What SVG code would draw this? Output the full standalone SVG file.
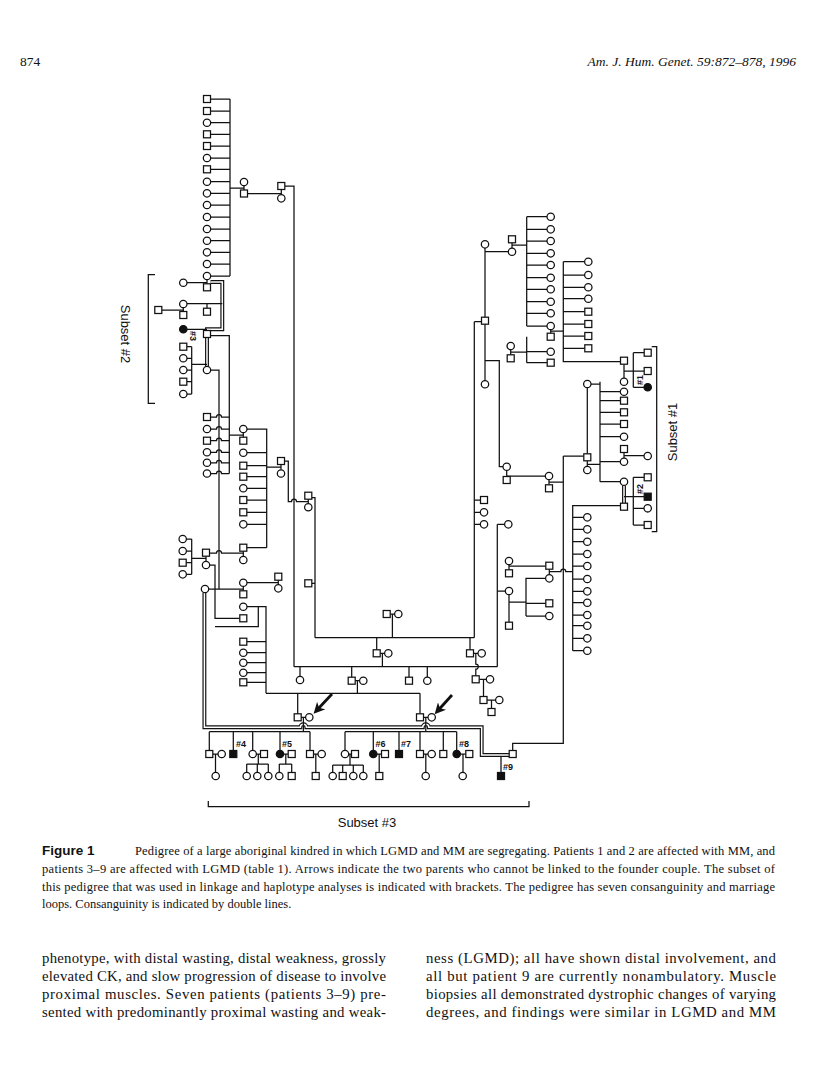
<svg xmlns="http://www.w3.org/2000/svg" xmlns:xlink="http://www.w3.org/1999/xlink" width="816" height="1081" viewBox="0 0 816 1081">
<style>
.s{fill:#fff;stroke:#111;stroke-width:1.25}
.f{fill:#111;stroke:#111;stroke-width:1.25}
.l{fill:none;stroke:#111;stroke-width:1.25}
.do{fill:none;stroke:#111;stroke-width:3.9}
.di{fill:none;stroke:#fff;stroke-width:1.5}
.ar{fill:none;stroke:#111;stroke-width:2.8}
.lab{font-family:"Liberation Sans",Arial,sans-serif;font-size:9px;font-weight:bold;fill:#111}
.sub{font-family:"Liberation Sans",Arial,sans-serif;font-size:13px;fill:#111}
.cap{font-family:"Liberation Serif","Times New Roman",serif;font-size:12.5px;fill:#111}
.bd{font-family:"Liberation Serif","Times New Roman",serif;font-size:14.8px;fill:#111}
.hd{font-family:"Liberation Serif","Times New Roman",serif;font-size:13.5px;fill:#111}
</style>
<defs>
<marker id="ah" markerUnits="userSpaceOnUse" markerWidth="11" markerHeight="11" refX="6" refY="5.5" orient="auto"><path d="M0,0 L11,5.5 L0,11 L3,5.5 Z" fill="#111"/></marker>
<path id="d1" d="M210.5,282 H222.3 V329.3 H207 V330.5"/>
<path id="d2" d="M207,337.6 V366.3"/>
<path id="d3" d="M624,485.4 V503.2"/>
<path id="d4" d="M204.4,592.7 V727.3 H300.4 a3,3 0 0 1 6,0 H422.8 a3,3 0 0 1 6,0 H481.7 V755 H509.2"/>
</defs>
<rect width="816" height="1081" fill="#fff"/>
<text class="hd" x="20" y="66">874</text>
<text class="hd" x="796" y="66" text-anchor="end" font-style="italic">Am. J. Hum. Genet. 59:872–878, 1996</text>

<g id="connectors">
<use xlink:href="#d1" class="do"/><use xlink:href="#d1" class="di"/>
<use xlink:href="#d2" class="do"/><use xlink:href="#d2" class="di"/>
<use xlink:href="#d3" class="do"/><use xlink:href="#d3" class="di"/>
<use xlink:href="#d4" class="do"/><use xlink:href="#d4" class="di"/>
<path class="l" d="M210.5,99H230M210.5,111H230M210.5,122.7H230M210.5,134.3H230M210.5,146H230M210.5,158H230M210.5,169.3H230M210.5,181.7H230M210.5,193.3H230M210.5,205H230M210.5,217H230M210.5,229H230M210.5,240.7H230M210.5,252.3H230M210.5,264H230M210.5,276H230M230,99V276M230,188H244M244,185.7V190M247.5,193.5H281.3M281.3,189.5V194.6M284.8,186H294V666.7"/>
<path class="l" d="M207,279.7V283.8M187,282.5H207M183.3,307.7V311.5M161.8,310H183.3M187,303.5H222.3M207,303.5V308.2M187,329.3H207M210.5,335.7H229.3V473.5M210.7,370H219V589M208.7,589H243.3M187,346.7H191.7M187,358.3H191.7M187,370H191.7M187,381.7H191.7M187,394H191.7M191.7,346.7V394M191.7,364.3H207"/>
<path class="l" d="M210.5,417H216.5a2.5,2.5 0 0 1 5,0H229.3M210.7,429H216.5a2.5,2.5 0 0 1 5,0H229.3M210.5,440.7H216.5a2.5,2.5 0 0 1 5,0H229.3M210.7,452.3H216.5a2.5,2.5 0 0 1 5,0H229.3M210.7,462.8H216.5a2.5,2.5 0 0 1 5,0H229.3M210.7,473.5H216.5a2.5,2.5 0 0 1 5,0H229.3M229.3,435H243.3M243.3,432.7V437.2M247,429H266.7V547.7M247,452.7H266.7M246.8,465.7H266.7M246.8,476.7H266.7M247,488.3H266.7M246.8,500H266.7M246.8,512.3H266.7M247,524.3H266.7M246.8,547.7H266.7M243.3,551.2V556.3M281,464.5V469.8M266.7,467H281M284.5,461H288.3V501.5H291.5a2.5,2.5 0 0 1 5,0H308.3M308.3,499.2V503.6M311.8,497.5H315V637.7M311.8,583.3H315"/>
<path class="l" d="M186.4,539H191.7M186.4,551H191.7M186.2,562.7H191.7M186.4,574.3H191.7M191.7,539V574.3M191.7,558.3H206M206,556.2V561.3M209.5,553H216.5a2.5,2.5 0 0 1 5,0H243.3M209.7,565H215V618.3H239.8M243.3,586.4V590.8M247,582.7H278.3M278.3,580.2V584.6M247,606.7H266V693.3M246.8,641.7H266M247,652.7H266M247,662.7H266M247,672.7H266M246.8,682.3H266M215,626.7H258.3V606.7"/>
<path class="l" d="M390.2,614H394.6M392.4,614V637.7M315,637.7H474.3M474.3,321.7V637.7M376.7,637.7V649.8M380.2,653.3H384.6M382.4,653.3V666.7M470,637.7V649.8M473.5,653.3H478M475.8,653.3V664.2a2.5,2.5 0 0 1 0,5V675.8M294,666.7H497.3M497.3,524.3V666.7M300,666.7V676.3M351.7,666.7V677.2M409,666.7V677.2M427.3,666.7V677M355.2,680.7H359.6M357.4,680.7V693.3M266,693.3H420M297.7,693.3V713.8M420,693.3V713.8M479.2,679.3H486.3M483.5,679.3V696.5M487,700H495.6M491.5,700V708.5M297.7,717.3H309.3M303.4,717.3V731.7M420,717.3H431.7M425.8,717.3V731.7"/>
<path class="l" d="M209.3,731.7H310M209.3,731.7V750.5M233.3,731.7V750.5M252.7,731.7V750.3M280,731.7V750.3M310,731.7V750.5M345,731.7H456.7M345,731.7V750.3M373.3,731.7V750.3M399,731.7V750.5M420,731.7V750.5M443.3,731.7V750.5M456.7,731.7V750.3M212.8,754H218M256.4,754H260.5M283.7,754H288.2M313.5,754H318M348.7,754H351.5M377,754H381.5M423.5,754H428M460.4,754H465.8M215.5,754V772.3M258.3,754V764M246.7,764H268.3M246.7,764V772.3M257.3,764V772.3M268.3,764V772.3M285.8,754V764M279.3,764H291.7M279.3,764V772.3M291.7,764V772.5M315.8,754V772.5M350,754V765M332.7,765H363.3M332.7,765V772.3M342.7,765V772.5M353.3,765V772.3M363.3,765V772.3M379.2,754V772.5M425.8,754V772.3M463,754V772.3M501,757V772.5M512.7,751.5V743.3H563.3V456"/>
<path class="l" d="M485,248V380.6M485,251.7H508.3M512,242.8V248M512,245H526.7M526.7,216.7V326M526.7,216.7H547M526.7,229.3H547M526.7,241H547M526.7,253.3H547M526.7,265H547M526.7,277.7H547M526.7,289.3H547M526.7,301.7H547M526.7,313.3H547M526.7,326H547M550.7,329.7V333.2M550.7,331H563.3M563.3,261.7V361.7H620.5M563.3,261.7H584.6M563.3,275H584.6M563.3,287.3H584.6M563.3,298.7H584.6M563.3,311.7H584.8M563.3,324H584.8M563.3,336H584.8M563.3,348.3H584.8M526.7,336.7V362.7M526.7,351.7H547M526.7,362.7H547.2M510.7,349.7V354.8M510.7,352H526.7M481.5,321.7H474.3M485,360.7H499.3V466.7H503M474.3,500H480.5M474.3,512.3H480.3M474.3,524.3H480.3M506.7,470.4V476.5M506.7,476H545.3M549,479.7V484.8M549,482H563.3M504.6,524.3H497.3M509,564.7V569.8M509,566H545.8M549.3,569.2V574.6M549.3,571.7H560.8a2.5,2.5 0 0 1 5,0H572.7M545.6,578.3H526V616M497.3,591H505.3M509,594.7V622.2M509,602H526M526,603.3H545.8M526,616H545.6"/>
<path class="l" d="M624,364.2V378M624,371H633.3M633.3,352.7V387.3M633.3,352.7H644.2M633.3,371H644.2M633.3,387.3H644M591,384H600M587.3,387.7V453.8M587.3,460.8V466.3M587.3,464.3H600M563.3,456H583.8M600,381.7V481.7M600,391.7H620.3M600,400.7H620.5M600,412.3H620.5M600,424H620.5M600,436.7H620.3M600,461.7H620.3M600,481.7H620.3M624,452.5V458M624,455.5H644M624,496.7H633.3M633.3,477.3V525M633.3,477.3H644.2M633.3,496.7H644.2M633.3,508.3H644M633.3,525H644.2M620.5,505.5H572.7V650.7M572.7,517.3H583.6M572.7,529.3H583.6M572.7,541.7H583.6M572.7,554H583.6M572.7,566H583.6M572.7,579H583.6M572.7,591.3H583.6M572.7,602.7H583.6M572.7,615H583.6M572.7,625.7H583.6M572.7,638.3H583.6M572.7,650.7H583.6"/>
<path class="ar" d="M332,694L317,710" marker-end="url(#ah)"/>
<path class="ar" d="M452,695L438,710.5" marker-end="url(#ah)"/>
<path class="l" d="M155,274.7H148.3V403.3H155M651.7,346.7H656.7V531.7H651.7M208.3,801V806.7H529V801"/>
</g>

<g id="nodes">
<g id="a1"><rect class="s" x="203.5" y="95.5" width="7" height="7"/></g>
<g id="a2"><rect class="s" x="203.5" y="107.5" width="7" height="7"/></g>
<g id="a3"><circle class="s" cx="207" cy="122.7" r="3.7"/></g>
<g id="a4"><rect class="s" x="203.5" y="130.8" width="7" height="7"/></g>
<g id="a5"><rect class="s" x="203.5" y="142.5" width="7" height="7"/></g>
<g id="a6"><circle class="s" cx="207" cy="158" r="3.7"/></g>
<g id="a7"><rect class="s" x="203.5" y="165.8" width="7" height="7"/></g>
<g id="a8"><circle class="s" cx="207" cy="181.7" r="3.7"/></g>
<g id="a9"><circle class="s" cx="207" cy="193.3" r="3.7"/></g>
<g id="a10"><circle class="s" cx="207" cy="205" r="3.7"/></g>
<g id="a11"><circle class="s" cx="207" cy="217" r="3.7"/></g>
<g id="a12"><circle class="s" cx="207" cy="229" r="3.7"/></g>
<g id="a13"><circle class="s" cx="207" cy="240.7" r="3.7"/></g>
<g id="a14"><circle class="s" cx="207" cy="252.3" r="3.7"/></g>
<g id="a15"><circle class="s" cx="207" cy="264" r="3.7"/></g>
<g id="a16"><circle class="s" cx="207" cy="276" r="3.7"/></g>
<g id="a17"><circle class="s" cx="244" cy="182" r="3.7"/></g>
<g id="a18"><rect class="s" x="240.5" y="190" width="7" height="7"/></g>
<g id="a19"><rect class="s" x="277.8" y="182.5" width="7" height="7"/></g>
<g id="a20"><circle class="s" cx="281.3" cy="198.3" r="3.7"/></g>

<g id="b1"><circle class="s" cx="183.3" cy="282.7" r="3.7"/></g>
<g id="b2"><rect class="s" x="203.5" y="283.8" width="7" height="7"/></g>
<g id="b3"><circle class="s" cx="183.3" cy="304" r="3.7"/></g>
<g id="b4"><rect class="s" x="179.8" y="311.5" width="7" height="7"/></g>
<g id="b5"><rect class="s" x="154.8" y="306.5" width="7" height="7"/></g>
<g id="b6"><rect class="s" x="203.5" y="308.2" width="7" height="7"/></g>
<g id="b7"><circle class="f" cx="183.3" cy="329.3" r="3.7"/><text class="lab" transform="translate(189.5,331) rotate(90)">#3</text></g>
<g id="b8"><rect class="s" x="203.5" y="330.5" width="7" height="7"/></g>
<g id="b9"><circle class="s" cx="207" cy="370" r="3.7"/></g>
<g id="b10"><rect class="s" x="179.8" y="343.2" width="7" height="7"/></g>
<g id="b11"><circle class="s" cx="183.3" cy="358.3" r="3.7"/></g>
<g id="b12"><circle class="s" cx="183.3" cy="370" r="3.7"/></g>
<g id="b13"><rect class="s" x="179.8" y="378.2" width="7" height="7"/></g>
<g id="b14"><circle class="s" cx="183.3" cy="394" r="3.7"/></g>

<g id="c1"><rect class="s" x="203.5" y="413.5" width="7" height="7"/></g>
<g id="c2"><circle class="s" cx="207" cy="429" r="3.7"/></g>
<g id="c3"><rect class="s" x="203.5" y="437.2" width="7" height="7"/></g>
<g id="c4"><circle class="s" cx="207" cy="452.3" r="3.7"/></g>
<g id="c5"><circle class="s" cx="207" cy="462.8" r="3.7"/></g>
<g id="c6"><circle class="s" cx="207" cy="473.5" r="3.7"/></g>
<g id="c7"><circle class="s" cx="243.3" cy="429" r="3.7"/></g>
<g id="c8"><rect class="s" x="239.8" y="437.2" width="7" height="7"/></g>
<g id="c9"><circle class="s" cx="243.3" cy="452.7" r="3.7"/></g>
<g id="c10"><rect class="s" x="239.8" y="462.2" width="7" height="7"/></g>
<g id="c11"><rect class="s" x="239.8" y="473.2" width="7" height="7"/></g>
<g id="c12"><circle class="s" cx="243.3" cy="488.3" r="3.7"/></g>
<g id="c13"><rect class="s" x="239.8" y="496.5" width="7" height="7"/></g>
<g id="c14"><rect class="s" x="239.8" y="508.8" width="7" height="7"/></g>
<g id="c15"><circle class="s" cx="243.3" cy="524.3" r="3.7"/></g>
<g id="c16"><rect class="s" x="239.8" y="544.2" width="7" height="7"/></g>
<g id="c17"><circle class="s" cx="243.3" cy="560" r="3.7"/></g>
<g id="c18"><rect class="s" x="277.5" y="457.5" width="7" height="7"/></g>
<g id="c19"><circle class="s" cx="281" cy="473.5" r="3.7"/></g>
<g id="c20"><rect class="s" x="304.8" y="492.2" width="7" height="7"/></g>
<g id="c21"><circle class="s" cx="308.3" cy="507.3" r="3.7"/></g>
<g id="c22"><rect class="s" x="304.8" y="579.8" width="7" height="7"/></g>

<g id="d01"><circle class="s" cx="182.7" cy="539" r="3.7"/></g>
<g id="d02"><circle class="s" cx="182.7" cy="551" r="3.7"/></g>
<g id="d03"><rect class="s" x="179.2" y="559.2" width="7" height="7"/></g>
<g id="d04"><circle class="s" cx="182.7" cy="574.3" r="3.7"/></g>
<g id="d05"><rect class="s" x="202.5" y="549.2" width="7" height="7"/></g>
<g id="d06"><circle class="s" cx="206" cy="565" r="3.7"/></g>
<g id="d07"><circle class="s" cx="205" cy="589" r="3.7"/></g>
<g id="d08"><circle class="s" cx="243.3" cy="582.7" r="3.7"/></g>
<g id="d09"><rect class="s" x="239.8" y="590.8" width="7" height="7"/></g>
<g id="d10"><rect class="s" x="274.8" y="573.2" width="7" height="7"/></g>
<g id="d11"><circle class="s" cx="278.3" cy="588.3" r="3.7"/></g>
<g id="d12"><circle class="s" cx="243.3" cy="606.7" r="3.7"/></g>
<g id="d13"><rect class="s" x="239.8" y="614.8" width="7" height="7"/></g>
<g id="d14"><rect class="s" x="239.8" y="638.2" width="7" height="7"/></g>
<g id="d15"><circle class="s" cx="243.3" cy="652.7" r="3.7"/></g>
<g id="d16"><circle class="s" cx="243.3" cy="662.7" r="3.7"/></g>
<g id="d17"><circle class="s" cx="243.3" cy="672.7" r="3.7"/></g>
<g id="d18"><rect class="s" x="239.8" y="678.8" width="7" height="7"/></g>

<g id="e01"><rect class="s" x="383.2" y="610.5" width="7" height="7"/></g>
<g id="e02"><circle class="s" cx="398.3" cy="614" r="3.7"/></g>
<g id="e03"><rect class="s" x="373.2" y="649.8" width="7" height="7"/></g>
<g id="e04"><circle class="s" cx="388.3" cy="653.3" r="3.7"/></g>
<g id="e05"><rect class="s" x="466.5" y="649.8" width="7" height="7"/></g>
<g id="e06"><circle class="s" cx="481.7" cy="653.3" r="3.7"/></g>
<g id="e07"><circle class="s" cx="300" cy="680" r="3.7"/></g>
<g id="e08"><rect class="s" x="348.2" y="677.2" width="7" height="7"/></g>
<g id="e09"><circle class="s" cx="363.3" cy="680.7" r="3.7"/></g>
<g id="e10"><rect class="s" x="405.5" y="677.2" width="7" height="7"/></g>
<g id="e11"><circle class="s" cx="427.3" cy="680.7" r="3.7"/></g>
<g id="e12"><rect class="s" x="472.2" y="675.8" width="7" height="7"/></g>
<g id="e13"><circle class="s" cx="490" cy="679.3" r="3.7"/></g>
<g id="e14"><rect class="s" x="480" y="696.5" width="7" height="7"/></g>
<g id="e15"><circle class="s" cx="499.3" cy="700" r="3.7"/></g>
<g id="e16"><rect class="s" x="488" y="708.5" width="7" height="7"/></g>
<g id="e17"><rect class="s" x="294.2" y="713.8" width="7" height="7"/></g>
<g id="e18"><circle class="s" cx="309.3" cy="717.3" r="3.7"/></g>
<g id="e19"><rect class="s" x="416.5" y="713.8" width="7" height="7"/></g>
<g id="e20"><circle class="s" cx="431.7" cy="717.3" r="3.7"/></g>

<g id="f01"><rect class="s" x="205.8" y="750.5" width="7" height="7"/></g>
<g id="f02"><circle class="s" cx="221.7" cy="754" r="3.7"/></g>
<g id="f03"><rect class="f" x="229.8" y="750.5" width="7" height="7"/><text class="lab" x="236" y="747">#4</text></g>
<g id="f04"><circle class="s" cx="252.7" cy="754" r="3.7"/></g>
<g id="f05"><rect class="s" x="260.5" y="750.5" width="7" height="7"/></g>
<g id="f06"><circle class="f" cx="280" cy="754" r="3.7"/><text class="lab" x="282" y="747">#5</text></g>
<g id="f07"><rect class="s" x="288.2" y="750.5" width="7" height="7"/></g>
<g id="f08"><rect class="s" x="306.5" y="750.5" width="7" height="7"/></g>
<g id="f09"><circle class="s" cx="321.7" cy="754" r="3.7"/></g>
<g id="f10"><circle class="s" cx="345" cy="754" r="3.7"/></g>
<g id="f11"><rect class="s" x="351.5" y="750.5" width="7" height="7"/></g>
<g id="f12"><circle class="f" cx="373.3" cy="754" r="3.7"/><text class="lab" x="375.5" y="747">#6</text></g>
<g id="f13"><rect class="s" x="381.5" y="750.5" width="7" height="7"/></g>
<g id="f14"><rect class="f" x="395.5" y="750.5" width="7" height="7"/><text class="lab" x="401" y="747">#7</text></g>
<g id="f15"><rect class="s" x="416.5" y="750.5" width="7" height="7"/></g>
<g id="f16"><circle class="s" cx="431.7" cy="754" r="3.7"/></g>
<g id="f17"><rect class="s" x="439.8" y="750.5" width="7" height="7"/></g>
<g id="f18"><circle class="f" cx="456.7" cy="754" r="3.7"/><text class="lab" x="459" y="747">#8</text></g>
<g id="f19"><rect class="s" x="465.8" y="750.5" width="7" height="7"/></g>
<g id="f20"><rect class="s" x="509.2" y="750.5" width="7" height="7"/></g>

<g id="g01"><circle class="s" cx="215.7" cy="776" r="3.7"/></g>
<g id="g02"><circle class="s" cx="246.7" cy="776" r="3.7"/></g>
<g id="g03"><circle class="s" cx="257.3" cy="776" r="3.7"/></g>
<g id="g04"><circle class="s" cx="268.3" cy="776" r="3.7"/></g>
<g id="g05"><circle class="s" cx="279.3" cy="776" r="3.7"/></g>
<g id="g06"><rect class="s" x="288.2" y="772.5" width="7" height="7"/></g>
<g id="g07"><rect class="s" x="312.2" y="772.5" width="7" height="7"/></g>
<g id="g08"><circle class="s" cx="332.7" cy="776" r="3.7"/></g>
<g id="g09"><rect class="s" x="339.2" y="772.5" width="7" height="7"/></g>
<g id="g10"><circle class="s" cx="353.3" cy="776" r="3.7"/></g>
<g id="g11"><circle class="s" cx="363.3" cy="776" r="3.7"/></g>
<g id="g12"><rect class="s" x="375.8" y="772.5" width="7" height="7"/></g>
<g id="g13"><circle class="s" cx="425.7" cy="776" r="3.7"/></g>
<g id="g14"><circle class="s" cx="462.7" cy="776" r="3.7"/></g>
<g id="g15"><rect class="f" x="497.5" y="772.5" width="7" height="7"/><text class="lab" x="503" y="770">#9</text></g>

<g id="t01"><circle class="s" cx="485" cy="244.3" r="3.7"/></g>
<g id="t02"><rect class="s" x="508.5" y="235.8" width="7" height="7"/></g>
<g id="t03"><circle class="s" cx="512" cy="251.7" r="3.7"/></g>
<g id="t04"><circle class="s" cx="550.7" cy="216.7" r="3.7"/></g>
<g id="t05"><circle class="s" cx="550.7" cy="229.3" r="3.7"/></g>
<g id="t06"><circle class="s" cx="550.7" cy="241" r="3.7"/></g>
<g id="t07"><circle class="s" cx="550.7" cy="253.3" r="3.7"/></g>
<g id="t08"><circle class="s" cx="550.7" cy="265" r="3.7"/></g>
<g id="t09"><circle class="s" cx="550.7" cy="277.7" r="3.7"/></g>
<g id="t10"><circle class="s" cx="550.7" cy="289.3" r="3.7"/></g>
<g id="t11"><circle class="s" cx="550.7" cy="301.7" r="3.7"/></g>
<g id="t12"><circle class="s" cx="550.7" cy="313.3" r="3.7"/></g>
<g id="t13"><circle class="s" cx="550.7" cy="326" r="3.7"/></g>
<g id="t14"><rect class="s" x="547.2" y="333.2" width="7" height="7"/></g>
<g id="t15"><circle class="s" cx="550.7" cy="351.7" r="3.7"/></g>
<g id="t16"><rect class="s" x="547.2" y="359.2" width="7" height="7"/></g>
<g id="t17"><circle class="s" cx="510.7" cy="346" r="3.7"/></g>
<g id="t18"><rect class="s" x="507.2" y="354.8" width="7" height="7"/></g>
<g id="t19"><circle class="s" cx="588.3" cy="261.7" r="3.7"/></g>
<g id="t20"><circle class="s" cx="588.3" cy="275" r="3.7"/></g>
<g id="t21"><circle class="s" cx="588.3" cy="287.3" r="3.7"/></g>
<g id="t22"><circle class="s" cx="588.3" cy="298.7" r="3.7"/></g>
<g id="t23"><rect class="s" x="584.8" y="308.2" width="7" height="7"/></g>
<g id="t24"><rect class="s" x="584.8" y="320.5" width="7" height="7"/></g>
<g id="t25"><rect class="s" x="584.8" y="332.5" width="7" height="7"/></g>
<g id="t26"><rect class="s" x="584.8" y="344.8" width="7" height="7"/></g>
<g id="t27"><rect class="s" x="481.5" y="317.2" width="7" height="7"/></g>
<g id="t28"><circle class="s" cx="485" cy="384.3" r="3.7"/></g>
<g id="t29"><rect class="s" x="480.5" y="496.5" width="7" height="7"/></g>
<g id="t30"><circle class="s" cx="484" cy="512.3" r="3.7"/></g>
<g id="t31"><circle class="s" cx="484" cy="524.3" r="3.7"/></g>
<g id="t32"><circle class="s" cx="506.7" cy="466.7" r="3.7"/></g>
<g id="t33"><rect class="s" x="503.2" y="476.5" width="7" height="7"/></g>
<g id="t34"><circle class="s" cx="549" cy="476" r="3.7"/></g>
<g id="t35"><rect class="s" x="545.5" y="484.8" width="7" height="7"/></g>
<g id="t36"><circle class="s" cx="508.3" cy="524.3" r="3.7"/></g>
<g id="t37"><circle class="s" cx="509" cy="561" r="3.7"/></g>
<g id="t38"><rect class="s" x="505.5" y="569.8" width="7" height="7"/></g>
<g id="t39"><rect class="s" x="545.8" y="562.2" width="7" height="7"/></g>
<g id="t40"><circle class="s" cx="549.3" cy="578.3" r="3.7"/></g>
<g id="t41"><circle class="s" cx="509" cy="591" r="3.7"/></g>
<g id="t42"><rect class="s" x="505.5" y="622.2" width="7" height="7"/></g>
<g id="t43"><rect class="s" x="545.8" y="599.8" width="7" height="7"/></g>
<g id="t44"><circle class="s" cx="549.3" cy="616" r="3.7"/></g>

<g id="r01"><rect class="s" x="620.5" y="357.2" width="7" height="7"/></g>
<g id="r02"><circle class="s" cx="624" cy="381.7" r="3.7"/></g>
<g id="r03"><rect class="s" x="644.2" y="349.2" width="7" height="7"/></g>
<g id="r04"><rect class="s" x="644.2" y="367.5" width="7" height="7"/></g>
<g id="r05"><circle class="f" cx="647.7" cy="387.3" r="3.7"/><text class="lab" transform="translate(643,385) rotate(-90)">#1</text></g>
<g id="r06"><circle class="s" cx="624" cy="391.7" r="3.7"/></g>
<g id="r07"><rect class="s" x="620.5" y="397.2" width="7" height="7"/></g>
<g id="r08"><rect class="s" x="620.5" y="408.8" width="7" height="7"/></g>
<g id="r09"><rect class="s" x="620.5" y="420.5" width="7" height="7"/></g>
<g id="r10"><circle class="s" cx="624" cy="436.7" r="3.7"/></g>
<g id="r11"><rect class="s" x="620.5" y="445.5" width="7" height="7"/></g>
<g id="r12"><circle class="s" cx="624" cy="461.7" r="3.7"/></g>
<g id="r13"><circle class="s" cx="647.7" cy="456" r="3.7"/></g>
<g id="r14"><circle class="s" cx="624" cy="481.7" r="3.7"/></g>
<g id="r15"><rect class="s" x="620.5" y="503.2" width="7" height="7"/></g>
<g id="r16"><rect class="s" x="644.2" y="473.8" width="7" height="7"/></g>
<g id="r17"><rect class="f" x="644.2" y="493.2" width="7" height="7"/><text class="lab" transform="translate(643,494) rotate(-90)">#2</text></g>
<g id="r18"><circle class="s" cx="647.7" cy="508.3" r="3.7"/></g>
<g id="r19"><rect class="s" x="644.2" y="521.5" width="7" height="7"/></g>
<g id="r20"><circle class="s" cx="587.3" cy="384" r="3.7"/></g>
<g id="r21"><rect class="s" x="583.8" y="453.8" width="7" height="7"/></g>
<g id="r22"><circle class="s" cx="587.3" cy="470" r="3.7"/></g>
<g id="r23"><circle class="s" cx="587.3" cy="517.3" r="3.7"/></g>
<g id="r24"><circle class="s" cx="587.3" cy="529.3" r="3.7"/></g>
<g id="r25"><circle class="s" cx="587.3" cy="541.7" r="3.7"/></g>
<g id="r26"><circle class="s" cx="587.3" cy="554" r="3.7"/></g>
<g id="r27"><circle class="s" cx="587.3" cy="566" r="3.7"/></g>
<g id="r28"><circle class="s" cx="587.3" cy="579" r="3.7"/></g>
<g id="r29"><circle class="s" cx="587.3" cy="591.3" r="3.7"/></g>
<g id="r30"><circle class="s" cx="587.3" cy="602.7" r="3.7"/></g>
<g id="r31"><circle class="s" cx="587.3" cy="615" r="3.7"/></g>
<g id="r32"><circle class="s" cx="587.3" cy="625.7" r="3.7"/></g>
<g id="r33"><circle class="s" cx="587.3" cy="638.3" r="3.7"/></g>
<g id="r34"><circle class="s" cx="587.3" cy="650.7" r="3.7"/></g>
</g>

<g id="labels">
<text class="sub" transform="translate(121,334) rotate(90)" text-anchor="middle">Subset #2</text>
<text class="sub" transform="translate(677,432) rotate(-90)" text-anchor="middle">Subset #1</text>
<text class="sub" x="367" y="827" text-anchor="middle">Subset #3</text>
</g>

<g id="caption">
<text x="42" y="855" font-family="'Liberation Sans',Arial,sans-serif" font-weight="bold" font-size="13.5" fill="#111">Figure 1</text>
<text class="cap" x="135" y="855" textLength="640" lengthAdjust="spacing">Pedigree of a large aboriginal kindred in which LGMD and MM are segregating. Patients 1 and 2 are affected with MM, and</text>
<text class="cap" x="42" y="873" textLength="733" lengthAdjust="spacing">patients 3–9 are affected with LGMD (table 1). Arrows indicate the two parents who cannot be linked to the founder couple. The subset of</text>
<text class="cap" x="42" y="891" textLength="733" lengthAdjust="spacing">this pedigree that was used in linkage and haplotype analyses is indicated with brackets. The pedigree has seven consanguinity and marriage</text>
<text class="cap" x="42" y="908">loops. Consanguinity is indicated by double lines.</text>
</g>
<g id="body">
<text class="bd" x="42" y="963" textLength="344" lengthAdjust="spacing">phenotype, with distal wasting, distal weakness, grossly</text>
<text class="bd" x="42" y="981" textLength="344" lengthAdjust="spacing">elevated CK, and slow progression of disease to involve</text>
<text class="bd" x="42" y="999" textLength="344" lengthAdjust="spacing">proximal muscles. Seven patients (patients 3–9) pre-</text>
<text class="bd" x="42" y="1017" textLength="344" lengthAdjust="spacing">sented with predominantly proximal wasting and weak-</text>
<text class="bd" x="426" y="963" textLength="350" lengthAdjust="spacing">ness (LGMD); all have shown distal involvement, and</text>
<text class="bd" x="426" y="981" textLength="350" lengthAdjust="spacing">all but patient 9 are currently nonambulatory. Muscle</text>
<text class="bd" x="426" y="999" textLength="350" lengthAdjust="spacing">biopsies all demonstrated dystrophic changes of varying</text>
<text class="bd" x="426" y="1017" textLength="350" lengthAdjust="spacing">degrees, and findings were similar in LGMD and MM</text>
</g>
</svg>
